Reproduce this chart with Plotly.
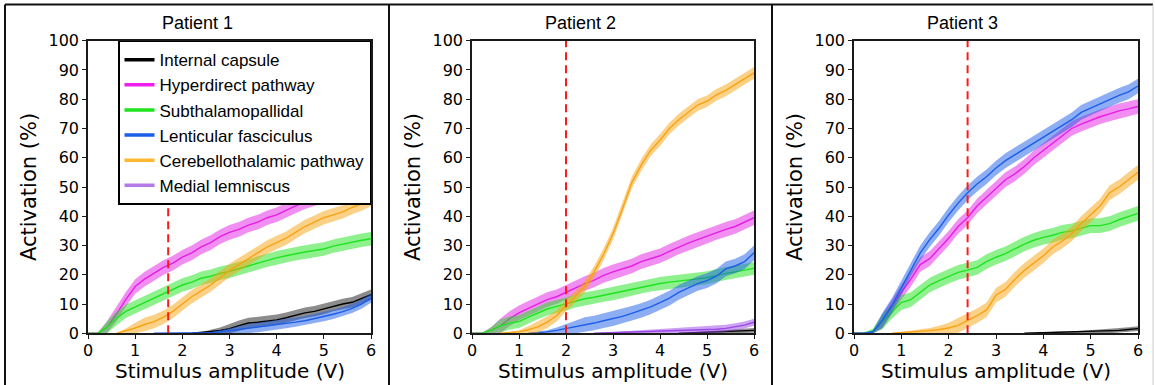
import plotly.graph_objects as go

W, H = 1155, 385

# ---------------- data ----------------
amplitude = [0.0, 0.2, 0.4, 0.6, 0.8, 1.0, 1.2, 1.4, 1.6, 1.8, 2.0, 2.2, 2.4, 2.6, 2.8, 3.0,
             3.2, 3.4, 3.6, 3.8, 4.0, 4.2, 4.4, 4.6, 4.8, 5.0, 5.2, 5.4, 5.6, 5.8, 6.0]

series_names = ["Internal capsule", "Hyperdirect pathway", "Subthalamopallidal",
                "Lenticular fasciculus", "Cerebellothalamic pathway", "Medial lemniscus"]
panel_titles = ["Patient 1", "Patient 2", "Patient 3"]
x_title = "Stimulus amplitude (V)"
y_title = "Activation (%)"
threshold_v = [1.7, 2.0, 2.4]

N = None
# Patient 1
p1_internal_capsule = [N, N, N, N, N, N, N, N, N, N, N, 0.0, 0.2, 0.6, 1.0, 1.6,
                       2.6, 3.5, 3.8, 4.2, 4.6, 5.3, 6.2, 7.0, 7.5, 8.3, 9.3, 10.0, 10.6, 11.8, 13.2]
p1_hyperdirect = [0, 0, 2, 6.5, 11.5, 16, 18.5, 20.5, 22.5, 24, 26, 27.5, 29.5, 31, 33, 34.5,
                  35.5, 37, 38, 39.5, 40.5, 42, 43.5, 45, 46, 47, 48, 48.5, 49, 50, 51]
p1_subthalamopallidal = [0, 0, 2, 5, 7.5, 9, 10.5, 12, 13.5, 15, 16.5, 17.5, 18.8, 19.5, 20.5, 21.2,
                         22, 23, 24, 25, 25.8, 26.5, 27.2, 27.8, 28.3, 28.8, 29.8, 30.5, 31.2, 31.8, 32.3]
p1_lenticular = [N, N, N, N, N, N, N, 0.0, 0.0, 0.0, 0.0, 0.0, 0.1, 0.2, 0.5, 0.9,
                 1.2, 1.6, 2.0, 2.4, 2.8, 3.3, 3.8, 4.3, 5.0, 5.7, 6.5, 7.4, 8.5, 10.0, 12.0]
p1_cerebellothalamic = [N, N, N, 0, 0.8, 1.8, 3, 4, 5.5, 7.5, 10, 12.5, 14.5, 16.5, 19, 21.5,
                        23.5, 25.5, 27.5, 29.5, 31, 32.5, 34.5, 36.5, 38, 39.5, 40.5, 41.5, 43, 44.2, 45.7]
p1_medial_lemniscus = [N] * 31
p1_band = [1.8, 2.5, 2.3, 1.6, 2.3, 1.0]

# Patient 2
p2_internal_capsule = [N, N, N, N, N, N, N, N, N, N, N, N, N, N, N, N,
                       N, N, N, N, N, N, 0.0, 0.1, 0.2, 0.3, 0.4, 0.5, 0.6, 0.8, 1.0]
p2_hyperdirect = [0, 0, 1, 2.5, 5, 7, 8.5, 10, 11.5, 12.5, 14, 15.5, 17, 18.2, 19.8, 21,
                  22, 23, 24.5, 25.5, 26.5, 28, 29.5, 30.8, 32, 33.2, 34.5, 35.5, 36.5, 38, 39.5]
p2_subthalamopallidal = [0, 0, 1, 2.5, 3.5, 4, 5.5, 7, 8.3, 9.2, 10, 11, 11.8, 12.3, 13, 13.5,
                         14.2, 15, 15.8, 16.5, 17, 17.5, 17.8, 18.2, 18.6, 19, 19.8, 20.5, 21, 21.6, 22.2]
p2_lenticular = [N, N, N, N, N, N, 0.0, 0.2, 0.5, 1.0, 1.6, 2.2, 3.0, 3.5, 4.3, 5.0,
                 5.8, 6.8, 7.8, 9.0, 10.5, 12, 14, 15.5, 17, 18, 19.5, 22, 23, 24.5, 27.5]
p2_cerebellothalamic = [N, N, N, 0, 0.2, 0.5, 1.2, 2.2, 3.8, 6, 9.5, 12.5, 16, 21, 27, 34,
                        42.5, 51.5, 57.5, 62.5, 66, 70, 73, 75.5, 78, 79.3, 81.5, 83, 85, 87, 89]
p2_medial_lemniscus = [N, N, N, N, N, N, N, N, N, N, N, N, N, 0.0, 0.1, 0.2,
                       0.3, 0.4, 0.5, 0.6, 0.7, 0.8, 0.9, 1.0, 1.1, 1.2, 1.4, 1.7, 2.2, 2.8, 3.8]
p2_band = [0.8, 2.5, 2.2, 2.5, 2.0, 1.2]

# Patient 3
p3_internal_capsule = [N, N, N, N, N, N, N, N, N, N, N, N, N, N, N, N,
                       N, N, 0.0, 0.1, 0.2, 0.2, 0.3, 0.3, 0.4, 0.5, 0.6, 0.8, 1.0, 1.3, 1.6]
p3_hyperdirect = [0, 0, 0.3, 4, 9, 14, 18.5, 23.5, 25.5, 29, 32.5, 36.5, 39.5, 43.5, 46.5, 49.5,
                  52.5, 54.5, 57, 60, 62.5, 65, 67.5, 70, 71.5, 72.8, 74, 75, 76, 76.7, 77.5]
p3_subthalamopallidal = [0, 0, 0.8, 4, 7.5, 10.5, 11.5, 14, 16.5, 18, 19.5, 20.8, 21.6, 22.5, 24.5, 26,
                         27.2, 28.8, 30.5, 31.8, 32.8, 33.5, 34.5, 35, 36, 36.8, 36.8, 37.5, 38.8, 40, 41]
p3_lenticular = [0, 0, 0.5, 4.5, 9.5, 15.5, 22, 27.5, 32, 36, 40.5, 44.5, 48, 51, 53.5, 56.5,
                 59, 61, 63, 65, 67.2, 69, 71, 73, 75.5, 77, 78.5, 80, 81.3, 82.5, 84.5]
p3_cerebellothalamic = [N, N, N, N, 0, 0.2, 0.4, 0.6, 0.9, 1.3, 1.8, 2.7, 4.3, 6, 8, 13,
                        15, 18.5, 21.5, 24, 26.5, 29.5, 31.5, 34, 37.5, 40.5, 43.5, 48, 50, 52.5, 55]
p3_medial_lemniscus = [N] * 31
p3_band = [0.8, 2.5, 2.5, 2.5, 2.5, 1.0]

panels = [
    [p1_internal_capsule, p1_hyperdirect, p1_subthalamopallidal, p1_lenticular,
     p1_cerebellothalamic, p1_medial_lemniscus],
    [p2_internal_capsule, p2_hyperdirect, p2_subthalamopallidal, p2_lenticular,
     p2_cerebellothalamic, p2_medial_lemniscus],
    [p3_internal_capsule, p3_hyperdirect, p3_subthalamopallidal, p3_lenticular,
     p3_cerebellothalamic, p3_medial_lemniscus],
]
bands = [p1_band, p2_band, p3_band]

# ---------------- style ----------------
line_colors = ["#000000", "#e41ee4", "#1ee41e", "#1b5ee8", "#f8a312", "#9a47e6"]
band_colors = ["rgba(0,0,0,0.45)", "rgba(228,30,228,0.5)", "rgba(30,228,30,0.5)",
               "rgba(27,94,232,0.5)", "rgba(248,163,18,0.5)", "rgba(154,71,230,0.5)"]
legend_colors = ["#000000", "#ee1eee", "#1ee41e", "#1b5ee8", "#fbb830", "#b57ae8"]

TICK_FONT = dict(family="DejaVu Sans", size=16, color="black")
AX_FONT = dict(family="DejaVu Sans", size=21, color="black")

x_domains = [(88 / W, 371 / W), (472 / W, 754 / W), (854 / W, 1138 / W)]
y_domain = (1 - 333.3 / H, 1 - 40.7 / H)

fig = go.Figure()

for p, series in enumerate(panels):
    xa = "x" if p == 0 else f"x{p + 1}"
    ya = "y" if p == 0 else f"y{p + 1}"
    for s, vals in enumerate(series):
        pts = [(a, v) for a, v in zip(amplitude, vals) if v is not None]
        if not pts:
            continue
        xs = [a for a, _ in pts]
        ms = [v for _, v in pts]
        hw = bands[p][s]
        up = [v + min(hw, v) for v in ms]
        lo = [v - min(hw, v) for v in ms]
        fig.add_trace(go.Scatter(
            x=xs + xs[::-1], y=up + lo[::-1], fill="toself", fillcolor=band_colors[s],
            line=dict(width=0), mode="lines", showlegend=False, hoverinfo="skip",
            xaxis=xa, yaxis=ya))
        fig.add_trace(go.Scatter(
            x=xs, y=ms, mode="lines", line=dict(color=line_colors[s], width=1.4),
            showlegend=False, name=series_names[s], xaxis=xa, yaxis=ya))
    # threshold dashed line
    fig.add_trace(go.Scatter(
        x=[threshold_v[p], threshold_v[p]], y=[0, 100], mode="lines",
        line=dict(color="#ff1a1a", width=2, dash="8px,5px"),
        showlegend=False, hoverinfo="skip", xaxis=xa, yaxis=ya))

# legend entries (thick swatches)
for s, name in enumerate(series_names):
    fig.add_trace(go.Scatter(
        x=[None], y=[None], mode="lines", name=name,
        line=dict(color=legend_colors[s], width=3.5), showlegend=True,
        xaxis="x", yaxis="y"))

layout = dict(
    width=W, height=H,
    margin=dict(l=0, r=0, t=0, b=0, autoexpand=False),
    paper_bgcolor="white", plot_bgcolor="white",
    showlegend=True,
    legend=dict(
        x=371 / W, xanchor="right", y=1 - 40.7 / H, yanchor="top",
        bgcolor="white", bordercolor="black", borderwidth=1.5,
        font=dict(family="Liberation Sans", size=17, color="black"),
        tracegroupgap=0, itemwidth=30,
    ),
)

for p in range(3):
    xk = "xaxis" if p == 0 else f"xaxis{p + 1}"
    yk = "yaxis" if p == 0 else f"yaxis{p + 1}"
    xa = "x" if p == 0 else f"x{p + 1}"
    ya = "y" if p == 0 else f"y{p + 1}"
    layout[xk] = dict(
        domain=list(x_domains[p]), anchor=ya, range=[0, 6], dtick=1, tick0=0,
        showgrid=False, zeroline=False, showline=True, linecolor="#1a1a1a", linewidth=1.5,
        mirror=True, ticks="outside", ticklen=4, tickwidth=1, tickcolor="#1a1a1a",
        tickfont=TICK_FONT, automargin=False, ticklabelstandoff=-2,
    )
    layout[yk] = dict(
        domain=list(y_domain), anchor=xa, range=[0, 100], dtick=10, tick0=0,
        showgrid=False, zeroline=False, showline=True, linecolor="#1a1a1a", linewidth=1.5,
        mirror=True, ticks="outside", ticklen=4, tickwidth=1, tickcolor="#1a1a1a",
        tickfont=TICK_FONT, automargin=False,
        title=dict(text=y_title, font=AX_FONT, standoff=6),
    )

fig.update_layout(**layout)

# panel titles and x-axis titles
centers = [197, 580.5, 962]
for p in range(3):
    fig.add_annotation(
        text=panel_titles[p], x=centers[p] / W, y=1 - 22.7 / H, xref="paper", yref="paper",
        xanchor="center", yanchor="middle", showarrow=False,
        font=dict(family="Liberation Sans", size=18, color="black"))
    fig.add_annotation(
        text=x_title, x=sum(x_domains[p]) / 2, y=1 - 370.5 / H, xref="paper", yref="paper",
        xanchor="center", yanchor="middle", showarrow=False,
        font=dict(family="DejaVu Sans", size=20, color="black"))

# outer frame and panel separators
frame = dict(color="#111111", width=2)
shapes = [
    dict(type="line", xref="paper", yref="paper", x0=5 / W, x1=1153 / W, y0=1 - 4.5 / H, y1=1 - 4.5 / H, line=frame),
    dict(type="line", xref="paper", yref="paper", x0=5 / W, x1=5 / W, y0=0, y1=1 - 4.5 / H, line=frame),
    dict(type="line", xref="paper", yref="paper", x0=389 / W, x1=389 / W, y0=0, y1=1 - 4.5 / H, line=frame),
    dict(type="line", xref="paper", yref="paper", x0=772 / W, x1=772 / W, y0=0, y1=1 - 4.5 / H, line=frame),
    dict(type="line", xref="paper", yref="paper", x0=1153 / W, x1=1153 / W, y0=0, y1=1 - 4.5 / H,
         line=dict(color="#cccccc", width=1)),
]
fig.update_layout(shapes=shapes)

fig.write_html("out.html")
